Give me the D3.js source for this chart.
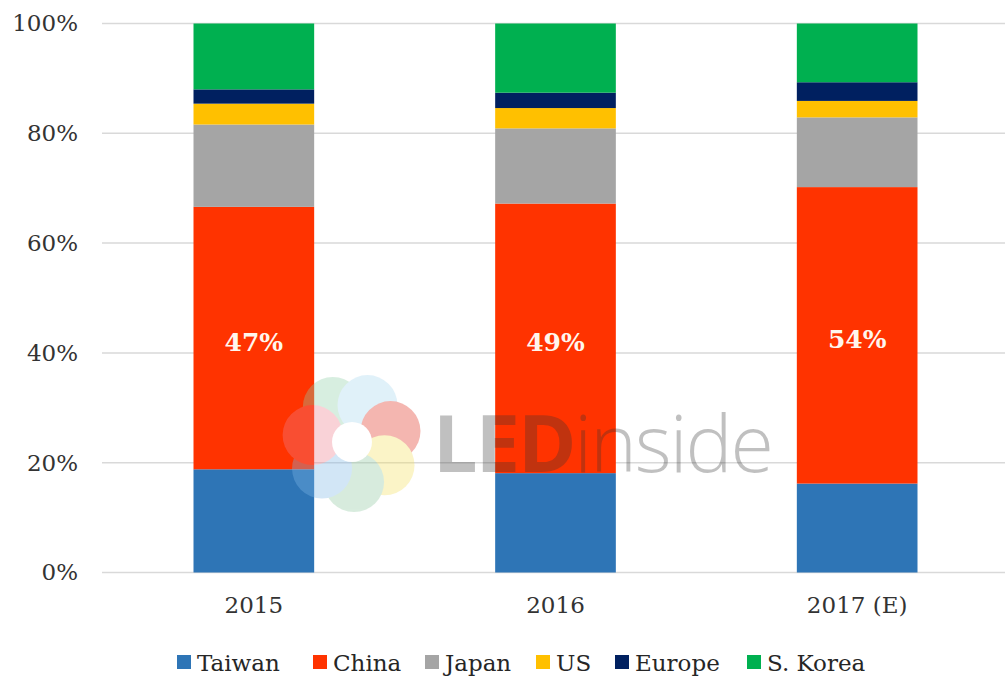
<!DOCTYPE html>
<html lang="en">
<head>
  <meta charset="utf-8" />
  <title>LED chip capacity share</title>
  <script src="https://cdn.jsdelivr.net/npm/d3@7"></script>
  <style>
    body { margin: 0; background: white; }
    .tick text { font-family: "DejaVu Serif", serif; fill: #333333; }
  </style>
</head>
<body>
<script>

var years = ["2015", "2016", "2017 (E)"];
var regions = ["Taiwan", "China", "Japan", "US", "Europe", "S. Korea"];
var taiwan = [18.8, 18.1, 16.2];
var china = [47.8, 49.1, 54.0];
var japan = [15.0, 13.7, 12.7];
var us = [3.8, 3.7, 3.0];
var europe = [2.6, 2.8, 3.4];
var korea = [12.0, 12.6, 10.7];
var chinaLabels = ["47%", "49%", "54%"];
var yTicks = [0, 20, 40, 60, 80, 100];
var colors = ["#2e75b6", "#ff3300", "#a5a5a5", "#ffc000", "#002060", "#00b050"];

var w = 1005, h = 679;
var pad = {left: 103, right: -3, top: 23.5, bottom: 106.5};

var rows = years.map(function(y, i) {
  return {year: y, "Taiwan": taiwan[i], "China": china[i], "Japan": japan[i],
          "US": us[i], "Europe": europe[i], "S. Korea": korea[i]};
});
var stacked = d3.stack().keys(regions)(rows);

var xScale = d3.scaleBand()
               .domain(years)
               .range([pad.left, w - pad.right])
               .paddingInner(0.6)
               .paddingOuter(0.3);
var yScale = d3.scaleLinear()
               .domain([0, 100])
               .range([h - pad.bottom, pad.top]);
var color = d3.scaleOrdinal().domain(regions).range(colors);

var svg = d3.select("body")
            .append("svg")
            .attr("width", w)
            .attr("height", h);

// gridlines
svg.append("g")
   .selectAll("line")
   .data(yTicks)
   .enter()
   .append("line")
   .attr("x1", 102)
   .attr("x2", w)
   .attr("y1", function(d) { return yScale(d); })
   .attr("y2", function(d) { return yScale(d); })
   .attr("stroke", "#d9d9d9")
   .attr("stroke-width", 1.5);

// bars
svg.append("g")
   .selectAll("g")
   .data(stacked)
   .enter()
   .append("g")
   .attr("fill", function(d) { return color(d.key); })
   .selectAll("rect")
   .data(function(d) { return d; })
   .enter()
   .append("rect")
   .attr("x", function(d) { return xScale(d.data.year); })
   .attr("y", function(d) { return yScale(d[1]); })
   .attr("width", xScale.bandwidth())
   .attr("height", function(d) { return yScale(d[0]) - yScale(d[1]); });

// china labels
svg.append("g")
   .selectAll("text")
   .data(stacked[1])
   .enter()
   .append("text")
   .attr("x", function(d) { return xScale(d.data.year) + xScale.bandwidth() / 2; })
   .attr("y", function(d) { return (yScale(d[0]) + yScale(d[1])) / 2 + 13; })
   .attr("text-anchor", "middle")
   .attr("font-family", "DejaVu Serif, serif")
   .attr("font-weight", "bold")
   .attr("font-size", 25)
   .attr("fill", "#fff6ee")
   .text(function(d, i) { return chinaLabels[i]; });

// watermark (faint logo + wordmark)
var petals = ["#90d0a8", "#a8d8f0", "#e03020", "#f4e060", "#90c8a0", "#80b8e8", "#f08090"];
var logo = svg.append("g")
              .attr("transform", "translate(352,442)")
              .attr("opacity", 0.35);
logo.selectAll("circle")
    .data(petals)
    .enter()
    .append("circle")
    .attr("r", 30)
    .attr("cx", function(d, i) { return 40 * Math.cos(-Math.PI / 2 - 0.5 + i * 2 * Math.PI / petals.length); })
    .attr("cy", function(d, i) { return 40 * Math.sin(-Math.PI / 2 - 0.5 + i * 2 * Math.PI / petals.length); })
    .attr("fill", function(d) { return d; });
logo.append("circle").attr("r", 20).attr("fill", "white");
svg.append("text")
  .attr("x", 433).attr("y", 472)
  .attr("opacity", 0.3)
  .attr("font-family", "Open Sans, sans-serif")
  .attr("font-size", 79)
  .attr("fill", "#333")
  .attr("letter-spacing", -2)
  .html('<tspan font-weight="bold">LED</tspan><tspan font-weight="300">inside</tspan>');

// axes
var xAxis = d3.axisBottom(xScale).tickSize(0).tickPadding(24);
var yAxis = d3.axisLeft(yScale).tickValues(yTicks).tickSize(0).tickPadding(24)
              .tickFormat(function(d) { return d + "%"; });

svg.append("g")
   .attr("transform", "translate(0," + (h - pad.bottom) + ")")
   .call(xAxis)
   .call(function(g) { g.select(".domain").remove(); })
   .selectAll("text").attr("font-size", 23);
svg.append("g")
   .attr("transform", "translate(102,0)")
   .call(yAxis)
   .call(function(g) { g.select(".domain").remove(); })
   .selectAll("text").attr("font-size", 23);

// legend
var legend = svg.append("g")
                .attr("transform", "translate(177,662)");
var offsets = [0, 136, 248, 359, 438, 570];
var item = legend.selectAll("g")
                 .data(regions)
                 .enter()
                 .append("g")
                 .attr("transform", function(d, i) { return "translate(" + offsets[i] + ",0)"; });
item.append("rect")
    .attr("x", 0).attr("y", -7)
    .attr("width", 14).attr("height", 14)
    .attr("fill", function(d) { return color(d); });
item.append("text")
    .attr("x", 20).attr("y", 9)
    .attr("font-family", "DejaVu Serif, serif")
    .attr("font-size", 23)
    .attr("fill", "#262626")
    .text(function(d) { return d; });

</script>
</body>
</html>
